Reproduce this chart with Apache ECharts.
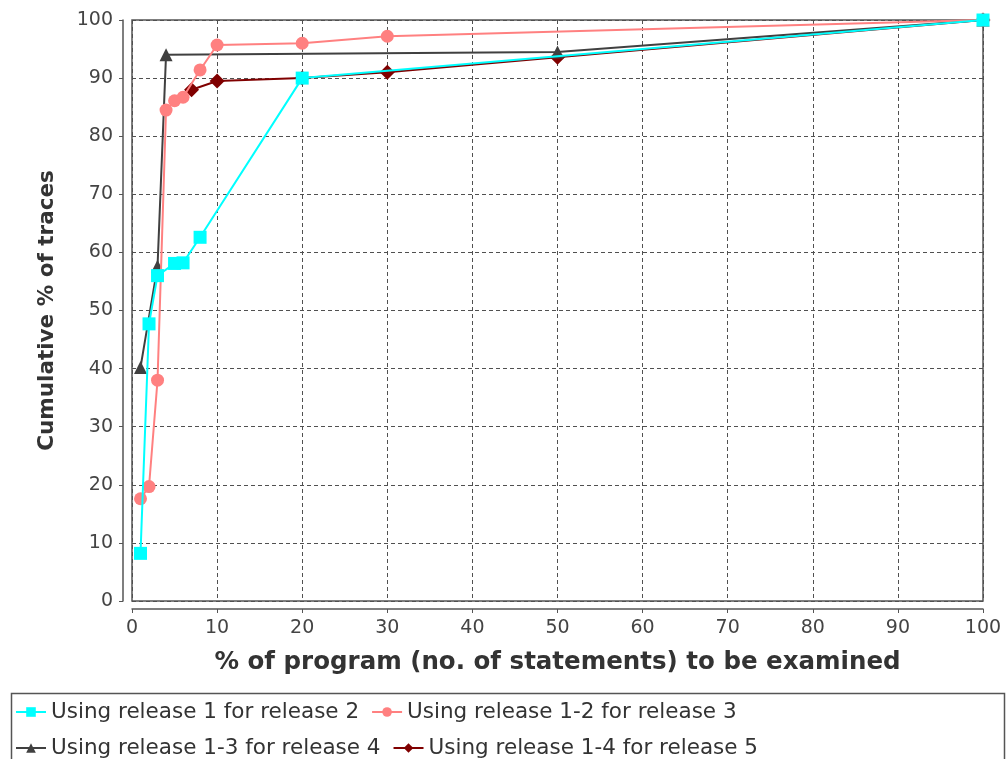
<!DOCTYPE html>
<html>
<head>
<meta charset="utf-8">
<script src="https://cdn.jsdelivr.net/npm/echarts@6/dist/echarts.min.js"></script>
<style>
html,body{margin:0;padding:0;background:#fff;}
#chart{width:1007px;height:759px;}
</style>
</head>
<body>
<div id="chart"></div>
<script>
const seriesNames = [
  "Using release 1 for release 2",
  "Using release 1-2 for release 3",
  "Using release 1-3 for release 4",
  "Using release 1-4 for release 5"
];
const release2 = [[1, 8.2], [2, 47.7], [3, 56], [5, 58.1], [6, 58.2], [8, 62.6], [20, 90], [100, 100]];
const release3 = [[1, 17.6], [2, 19.7], [3, 38], [4, 84.5], [5, 86.1], [6, 86.7], [8, 91.4], [10, 95.7], [20, 96], [30, 97.2], [100, 100]];
const release4 = [[1, 40.2], [3, 57.6], [4, 94], [50, 94.5], [100, 100]];
const release5 = [[7, 88], [10, 89.5], [20, 90], [30, 91], [50, 93.6], [100, 100]];
const xTicks = [0, 10, 20, 30, 40, 50, 60, 70, 80, 90, 100];
const yTicks = [0, 10, 20, 30, 40, 50, 60, 70, 80, 90, 100];

const FONT = 'DejaVu Sans';
const chart = echarts.init(document.getElementById('chart'), null, {renderer: 'canvas'});
function mk(name, data, color, symbol, size, z) {
  return {
    name: name, type: 'line', data: data, z: z,
    symbol: symbol, symbolSize: size,
    lineStyle: {color: color, width: 2},
    itemStyle: {color: color},
    emphasis: {disabled: true}
  };
}
const gridLine = {show: true, lineStyle: {color: '#505050', type: [4, 3], width: 1}};
chart.setOption({
  animation: false,
  backgroundColor: '#fff',
  grid: {left: 132, right: 24, top: 20, height: 581, show: true, borderColor: '#555', borderWidth: 1.5, backgroundColor: '#fff'},
  xAxis: {
    type: 'value', min: xTicks[0], max: xTicks[xTicks.length - 1], interval: 10, offset: 8,
    name: '% of program (no. of statements) to be examined', nameLocation: 'middle', nameGap: 41,
    nameTextStyle: {fontFamily: FONT, fontWeight: 'bold', fontSize: 24.5, color: '#333'},
    axisLine: {show: true, onZero: false, lineStyle: {color: '#555', width: 1.5}},
    axisTick: {show: true, length: 4, lineStyle: {color: '#555'}},
    axisLabel: {fontFamily: FONT, fontSize: 19, color: '#444', margin: 10},
    splitLine: gridLine
  },
  yAxis: {
    type: 'value', min: yTicks[0], max: yTicks[yTicks.length - 1], interval: 10, offset: 9,
    name: 'Cumulative % of traces', nameLocation: 'middle', nameGap: 65,
    nameTextStyle: {fontFamily: FONT, fontWeight: 'bold', fontSize: 21.5, color: '#333'},
    axisLine: {show: true, onZero: false, lineStyle: {color: '#555', width: 1.5}},
    axisTick: {show: true, length: 4, lineStyle: {color: '#555'}},
    axisLabel: {fontFamily: FONT, fontSize: 19, color: '#444', margin: 10},
    splitLine: gridLine
  },
  legend: {
    data: seriesNames,
    left: 15, top: 700, width: 800,
    orient: 'horizontal',
    itemWidth: 30, itemHeight: 12, itemGap: 12,
    textStyle: {fontFamily: FONT, fontSize: 21.5, color: '#333', lineHeight: 24},
    padding: 0
  },
  graphic: [{
    type: 'rect', left: 9, top: 691,
    shape: {width: 993, height: 80},
    style: {fill: 'none', stroke: '#555', lineWidth: 1.5},
    silent: true
  }],
  series: [
    mk(seriesNames[0], release2, '#00FFFF', 'rect', 13, 5),
    mk(seriesNames[1], release3, '#FF8080', 'circle', 13, 4),
    mk(seriesNames[2], release4, '#404040', 'triangle', 13, 3),
    mk(seriesNames[3], release5, '#800000', 'diamond', 15, 2)
  ]
});
</script>
</body>
</html>
